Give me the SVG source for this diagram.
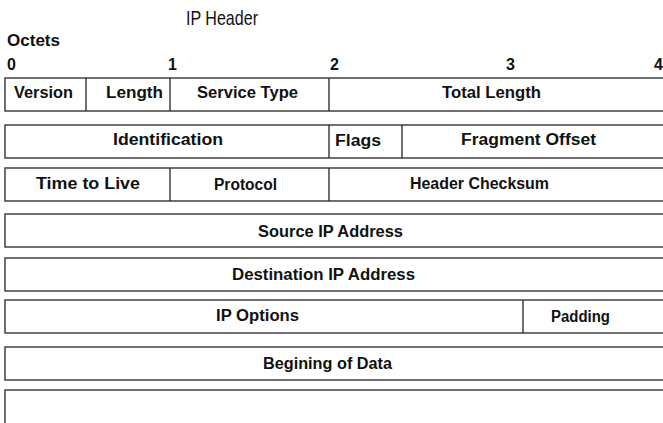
<svg xmlns="http://www.w3.org/2000/svg" width="663" height="423" viewBox="0 0 663 423">
<style>
  .box { fill: #ffffff; stroke: #333333; stroke-width: 1.4; }
  .div { stroke: #333333; stroke-width: 1.4; fill: none; }
  .lbl { font-family: "Liberation Sans", "DejaVu Sans", sans-serif; font-size: 16px; font-weight: bold; fill: #111111; text-anchor: middle; }
  .num { font-family: "Liberation Sans", "DejaVu Sans", sans-serif; font-size: 16px; font-weight: bold; fill: #111111; }
  .title { font-family: "Liberation Sans", "DejaVu Sans", sans-serif; font-size: 21px; fill: #111111; text-anchor: middle; }
</style>
<rect width="663" height="423" fill="#ffffff"/>
<g id="title">
  <text class="title" x="222" y="25" textLength="72" lengthAdjust="spacingAndGlyphs">IP Header</text>
</g>
<g id="scale">
  <text class="num" x="7" y="46" textLength="53" lengthAdjust="spacingAndGlyphs">Octets</text>
  <text class="num" x="7" y="70">0</text>
  <text class="num" x="168" y="70">1</text>
  <text class="num" x="330" y="70">2</text>
  <text class="num" x="506" y="70">3</text>
  <text class="num" x="654" y="70">4</text>
</g>
<g id="row1">
  <rect class="box" x="5" y="78" width="662" height="33"/>
  <line class="div" x1="86" y1="78" x2="86" y2="111"/>
  <line class="div" x1="170" y1="78" x2="170" y2="111"/>
  <line class="div" x1="329" y1="78" x2="329" y2="111"/>
  <text class="lbl" x="43.5" y="98" textLength="59" lengthAdjust="spacingAndGlyphs">Version</text>
  <text class="lbl" x="134.5" y="98" textLength="57" lengthAdjust="spacingAndGlyphs">Length</text>
  <text class="lbl" x="247.5" y="98" textLength="101" lengthAdjust="spacingAndGlyphs">Service Type</text>
  <text class="lbl" x="491.5" y="98" textLength="99" lengthAdjust="spacingAndGlyphs">Total Length</text>
</g>
<g id="row2">
  <rect class="box" x="5" y="125" width="662" height="33"/>
  <line class="div" x1="329" y1="125" x2="329" y2="158"/>
  <line class="div" x1="402" y1="125" x2="402" y2="158"/>
  <text class="lbl" x="168" y="145" textLength="110" lengthAdjust="spacingAndGlyphs">Identification</text>
  <text class="lbl" x="358" y="146" textLength="46" lengthAdjust="spacingAndGlyphs">Flags</text>
  <text class="lbl" x="528.5" y="145" textLength="135" lengthAdjust="spacingAndGlyphs">Fragment Offset</text>
</g>
<g id="row3">
  <rect class="box" x="5" y="168" width="662" height="33"/>
  <line class="div" x1="170" y1="168" x2="170" y2="201"/>
  <line class="div" x1="329" y1="168" x2="329" y2="201"/>
  <text class="lbl" x="88" y="189" textLength="104" lengthAdjust="spacingAndGlyphs">Time to Live</text>
  <text class="lbl" x="245.5" y="190" textLength="63" lengthAdjust="spacingAndGlyphs">Protocol</text>
  <text class="lbl" x="479.5" y="189" textLength="139" lengthAdjust="spacingAndGlyphs">Header Checksum</text>
</g>
<g id="row4">
  <rect class="box" x="5" y="214" width="662" height="33"/>
  <text class="lbl" x="330.5" y="237" textLength="145" lengthAdjust="spacingAndGlyphs">Source IP Address</text>
</g>
<g id="row5">
  <rect class="box" x="5" y="258" width="662" height="33"/>
  <text class="lbl" x="323.5" y="280" textLength="183" lengthAdjust="spacingAndGlyphs">Destination IP Address</text>
</g>
<g id="row6">
  <rect class="box" x="5" y="300" width="662" height="33"/>
  <line class="div" x1="523" y1="300" x2="523" y2="333"/>
  <text class="lbl" x="257.5" y="321" textLength="83" lengthAdjust="spacingAndGlyphs">IP Options</text>
  <text class="lbl" x="580.5" y="322" textLength="59" lengthAdjust="spacingAndGlyphs">Padding</text>
</g>
<g id="row7">
  <rect class="box" x="5" y="347" width="662" height="33"/>
  <text class="lbl" x="327.5" y="369" textLength="129" lengthAdjust="spacingAndGlyphs">Begining of Data</text>
</g>
<g id="row8">
  <rect class="box" x="5" y="390" width="662" height="40"/>
</g>
<g id="connectors"></g>
</svg>
